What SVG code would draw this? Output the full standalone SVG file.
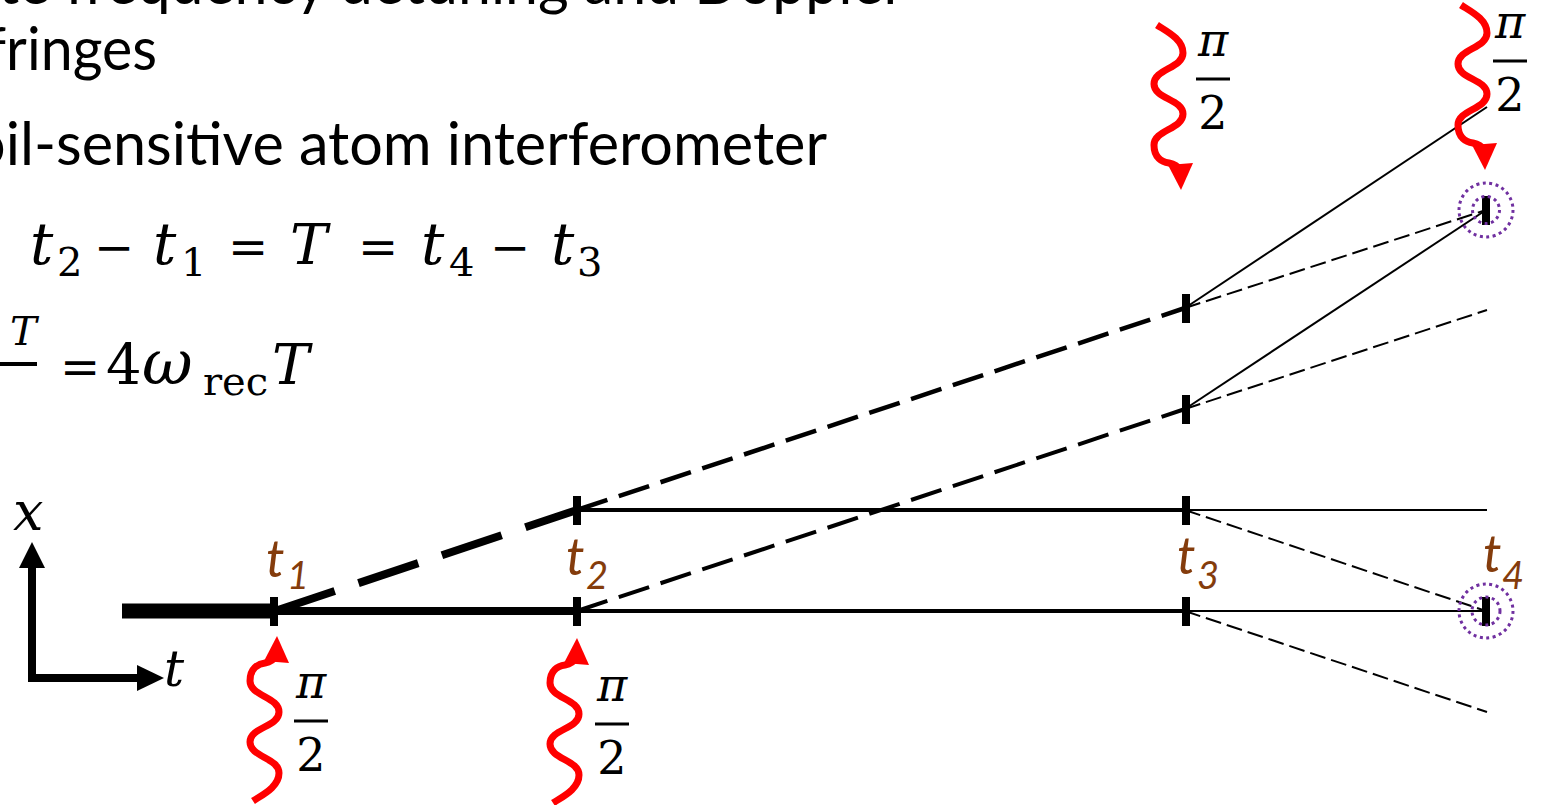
<svg xmlns="http://www.w3.org/2000/svg" width="1547" height="805" viewBox="0 0 1547 805">
<defs>
<style>
.body{font-family:Lato,"Open Sans",sans-serif;fill:#000}
.math{font-family:"DejaVu Serif","Liberation Serif",serif;fill:#000}
.it{font-style:italic}
.lbl{font-family:Lato,"Open Sans",sans-serif;font-style:italic;fill:#843C0C}
.ln{stroke:#000;fill:none}
.w2{stroke-width:2}
.d2{stroke-dasharray:16 6}
.tick{fill:#000}
.wave{stroke:#FF0000;stroke-width:7;fill:none}
.head{fill:#FF0000}
.circ{fill:none;stroke:#7030A0;stroke-width:3;stroke-dasharray:3 3.5}
</style>
<g id="photon">
<path class="wave" d="M -24 163 C -15 157, 2 149, 2 135 C 2 120, -27 119, -27 104 C -27 89, 2 89, 2 74 C 2 59, -27 58, -27 43 C -27 30, -19 26, -12 25 C -7 24, -4 23, -2 19"/>
<polygon class="head" points="0,-2 12,25 -13,23"/>
</g>
<g id="pihalf">
<text class="math it" x="0" y="0" font-size="46" text-anchor="middle">π</text>
<rect x="-17" y="21.5" width="34" height="3" fill="#000"/>
<text class="math" x="0" y="73" font-size="46" text-anchor="middle">2</text>
</g>
</defs>
<rect width="1547" height="805" fill="#fff"/>

<g id="text-lines">
<text class="body" x="-2" y="4" font-size="60" textLength="907" lengthAdjust="spacingAndGlyphs">te frequency detuning and Doppler</text>
<text class="body" x="-14" y="70" font-size="60" textLength="171" lengthAdjust="spacingAndGlyphs">fringes</text>
<text class="body" x="-28" y="165" font-size="60" textLength="855" lengthAdjust="spacingAndGlyphs">oil-sensitive atom interferometer</text>
</g>

<g id="eq1" class="math">
<text x="30" y="264" class="it" font-size="58">t</text>
<text x="57" y="276" font-size="40">2</text>
<text x="94" y="264" font-size="48">−</text>
<text x="153" y="264" class="it" font-size="58">t</text>
<text x="181" y="276" font-size="40">1</text>
<text x="228" y="264" font-size="48">=</text>
<text x="290" y="264" class="it" font-size="56">T</text>
<text x="358" y="264" font-size="48">=</text>
<text x="421" y="264" class="it" font-size="58">t</text>
<text x="449" y="276" font-size="40">4</text>
<text x="490" y="264" font-size="48">−</text>
<text x="551" y="264" class="it" font-size="58">t</text>
<text x="577" y="276" font-size="40">3</text>
</g>

<g id="eq2" class="math">
<text x="10" y="345" font-size="40" class="it">T</text>
<rect x="0" y="362" width="37" height="4" fill="#000"/>
<text x="60" y="384" font-size="48">=</text>
<text x="106" y="384" font-size="56">4</text>
<text x="142" y="384" class="it" font-size="62">ω</text>
<text x="203" y="395" font-size="40">rec</text>
<text x="272" y="384" class="it" font-size="56">T</text>
</g>

<g id="axes">
<path class="ln" d="M32 566 L32 678 L140 678" stroke-width="8" stroke-linejoin="miter"/>
<polygon points="32,542 19,568 45,568" fill="#000"/>
<polygon points="164,678 137,665 137,691" fill="#000"/>
<text class="math it" x="13" y="530" font-size="54">x</text>
<text class="math it" x="164" y="686" font-size="50">t</text>
</g>

<g id="connectors">
<line class="ln" x1="122" y1="611" x2="275" y2="611" stroke-width="15"/>
<line class="ln" x1="275" y1="611" x2="577" y2="611" stroke-width="8"/>
<line class="ln" x1="577" y1="611" x2="1185" y2="611" stroke-width="4"/>
<line class="ln" x1="577" y1="510" x2="1185" y2="510" stroke-width="4"/>
<line class="ln w2" x1="1185" y1="611" x2="1486" y2="611"/>
<line class="ln w2" x1="1185" y1="510" x2="1487" y2="510"/>
<line class="ln" x1="275" y1="611" x2="577" y2="510" stroke-width="8" stroke-dasharray="63 25"/>
<line class="ln" x1="577" y1="510" x2="1185" y2="308" stroke-width="4.5" stroke-dasharray="32 12"/>
<line class="ln" x1="577" y1="611" x2="1185" y2="409" stroke-width="4" stroke-dasharray="32 12"/>
<line class="ln w2" x1="1185" y1="308" x2="1487" y2="107"/>
<line class="ln w2" x1="1185" y1="409" x2="1486" y2="210"/>
<line class="ln w2 d2" x1="1185" y1="308" x2="1486" y2="210"/>
<line class="ln w2 d2" x1="1185" y1="409" x2="1487" y2="310"/>
<line class="ln w2 d2" x1="1185" y1="510" x2="1486" y2="611"/>
<line class="ln w2 d2" x1="1185" y1="611" x2="1487" y2="712"/>
</g>

<g id="t1">
<rect class="tick" x="270" y="597" width="8" height="29"/>
<text class="lbl" x="266" y="577" font-size="52">t</text>
<text class="lbl" x="287" y="589" font-size="38">1</text>
</g>
<g id="t2">
<rect class="tick" x="573" y="496" width="8" height="29"/>
<rect class="tick" x="573" y="597" width="8" height="29"/>
<text class="lbl" x="566" y="575" font-size="52">t</text>
<text class="lbl" x="586" y="589" font-size="38">2</text>
</g>
<g id="t3">
<rect class="tick" x="1182" y="294" width="8" height="29"/>
<rect class="tick" x="1182" y="395" width="8" height="29"/>
<rect class="tick" x="1182" y="496" width="8" height="29"/>
<rect class="tick" x="1182" y="597" width="8" height="29"/>
<text class="lbl" x="1177" y="574" font-size="52">t</text>
<text class="lbl" x="1197" y="589" font-size="38">3</text>
</g>
<g id="t4">
<rect class="tick" x="1482" y="196" width="8" height="29"/>
<rect class="tick" x="1482" y="597" width="8" height="29"/>
<circle class="circ" cx="1486" cy="210" r="27"/>
<circle class="circ" cx="1486" cy="210" r="13.5"/>
<circle class="circ" cx="1486" cy="611" r="27"/>
<circle class="circ" cx="1486" cy="611" r="14"/>
<text class="lbl" x="1483" y="572" font-size="52">t</text>
<text class="lbl" x="1502" y="589" font-size="38">4</text>
</g>

<g id="pulse1">
<use href="#photon" transform="translate(277,638)"/>
<use href="#pihalf" transform="translate(311,698)"/>
</g>
<g id="pulse2">
<use href="#photon" transform="translate(577,640)"/>
<use href="#pihalf" transform="translate(612,701)"/>
</g>
<g id="pulse3">
<use href="#photon" transform="translate(1181,188) scale(1,-1)"/>
<use href="#pihalf" transform="translate(1213,56)"/>
</g>
<g id="pulse4">
<use href="#photon" transform="translate(1485,168) scale(1,-1)"/>
<use href="#pihalf" transform="translate(1510,38)"/>
</g>
</svg>
